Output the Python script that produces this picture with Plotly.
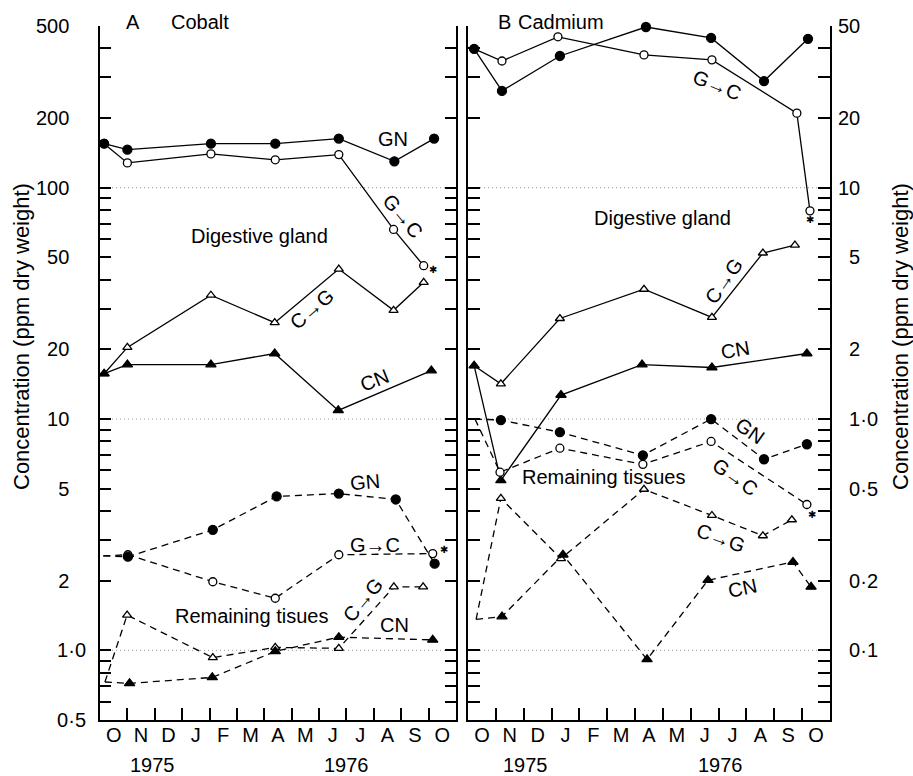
import math
import plotly.graph_objects as go

FONT = "Liberation Sans, Arial, sans-serif"

# Month axis (x = months after 1 Oct 1975)
MONTHS = ["O", "N", "D", "J", "F", "M", "A", "M", "J", "J", "A", "S", "O"]
YEARS = ["1975", "1976"]

# ---------------- A  Cobalt (ppm dry weight) ----------------
# digestive gland
co_dg_gn_x = [0.15, 1.0, 4.05, 6.4, 8.72, 10.75, 12.2]
co_dg_gn_y = [155, 146, 155, 155, 163, 130, 163]
co_dg_gc_x = [0.15, 1.0, 4.05, 6.4, 8.72, 10.72, 11.82]
co_dg_gc_y = [155, 128, 140, 132, 139, 66, 46]
co_dg_cg_x = [0.15, 1.0, 4.05, 6.38, 8.72, 10.72, 11.82]
co_dg_cg_y = [15.7, 20.4, 34.3, 26.1, 44.5, 29.5, 39]
co_dg_cn_x = [0.15, 1.0, 4.05, 6.38, 8.7, 12.1]
co_dg_cn_y = [15.7, 17.2, 17.2, 19.2, 10.9, 16.2]
# remaining tissues
co_rt_gn_x = [0.12, 1.02, 4.12, 6.45, 8.72, 10.8, 12.22]
co_rt_gn_y = [2.56, 2.54, 3.32, 4.63, 4.76, 4.49, 2.37]
co_rt_gc_x = [0.12, 1.02, 4.12, 6.4, 8.72, 12.15]
co_rt_gc_y = [2.56, 2.59, 1.98, 1.68, 2.59, 2.62]
co_rt_cg_x = [0.18, 0.99, 4.12, 6.4, 8.72, 10.73, 11.8]
co_rt_cg_y = [0.73, 1.42, 0.93, 1.03, 1.02, 1.88, 1.88]
co_rt_cn_x = [0.18, 1.08, 4.1, 6.4, 8.72, 12.15]
co_rt_cn_y = [0.73, 0.72, 0.764, 0.99, 1.14, 1.11]

# ---------------- B  Cadmium (ppm dry weight) ----------------
cd_dg_gn_x = [0.22, 1.22, 3.3, 6.39, 8.73, 10.63, 12.21]
cd_dg_gn_y = [39.8, 26.2, 37.1, 49.5, 44.4, 28.9, 44.0]
cd_dg_gc_x = [0.22, 1.22, 3.23, 6.32, 8.76, 11.81, 12.28]
cd_dg_gc_y = [39.8, 35.3, 44.9, 37.5, 35.7, 21.0, 7.94]
cd_dg_cg_x = [0.22, 1.18, 3.3, 6.32, 8.76, 10.59, 11.74]
cd_dg_cg_y = [1.70, 1.42, 2.72, 3.64, 2.75, 5.22, 5.65]
cd_dg_cn_x = [0.22, 1.18, 3.34, 6.25, 8.76, 12.17]
cd_dg_cn_y = [1.70, 0.543, 1.27, 1.72, 1.67, 1.92]
cd_rt_gn_x = [0.25, 1.18, 3.3, 6.28, 8.73, 10.63, 12.17]
cd_rt_gn_y = [1.0, 0.99, 0.877, 0.697, 1.0, 0.67, 0.778]
cd_rt_gc_x = [0.25, 1.15, 3.3, 6.28, 8.73, 12.17]
cd_rt_gc_y = [1.0, 0.589, 0.748, 0.637, 0.80, 0.427]
cd_rt_cg_x = [0.29, 1.18, 3.34, 6.32, 8.76, 10.59, 11.63]
cd_rt_cg_y = [0.136, 0.454, 0.249, 0.497, 0.383, 0.313, 0.367]
cd_rt_cn_x = [0.29, 1.22, 3.41, 6.43, 8.62, 11.67, 12.32]
cd_rt_cn_y = [0.136, 0.14, 0.259, 0.0914, 0.201, 0.241, 0.188]

# Axis tick values / labels
co_ticks = [m * 10 ** e for e in (-1, 0, 1, 2) for m in range(1, 10)
            if 0.5 <= m * 10 ** e <= 500]
cd_ticks = [v / 10 for v in co_ticks]
co_labels = {500: "500", 200: "200", 100: "100", 50: "50", 20: "20",
             10: "10", 5: "5", 2: "2", 1: "1·0", 0.5: "0·5"}
cd_labels = {50: "50", 20: "20", 10: "10", 5: "5", 2: "2",
             1: "1·0", 0.5: "0·5", 0.2: "0·2", 0.1: "0·1"}

fig = go.Figure()

STYLE = {
    "GN": dict(symbol="circle", color="black", size=9),
    "GC": dict(symbol="circle", color="white", size=8),
    "CG": dict(symbol="triangle-up", color="white", size=8),
    "CN": dict(symbol="triangle-up", color="black", size=9),
}


def add_series(x, y, kind, dashed, xa, ya):
    st = STYLE[kind]
    sizes = [st["size"]] * len(x)
    if dashed:
        sizes[0] = 0  # the first remaining-tissue value is drawn without a marker
    fig.add_trace(go.Scatter(
        x=x, y=y, mode="lines+markers", xaxis=xa, yaxis=ya,
        line=dict(color="black", width=1.3, dash="7px,5px" if dashed else "solid"),
        marker=dict(symbol=st["symbol"], color=st["color"], size=sizes, opacity=1,
                    line=dict(color="black", width=1.3)),
        cliponaxis=False, showlegend=False, hoverinfo="skip"))


# dotted reference lines at decades
for v in (100, 10, 1):
    fig.add_trace(go.Scatter(x=[0, 13], y=[v, v], mode="lines", xaxis="x", yaxis="y",
                             line=dict(color="#9a9a9a", width=1, dash="1px,3px"),
                             showlegend=False, hoverinfo="skip"))
for v in (10, 1, 0.1):
    fig.add_trace(go.Scatter(x=[0, 13], y=[v, v], mode="lines", xaxis="x2", yaxis="y2",
                             line=dict(color="#9a9a9a", width=1, dash="1px,3px"),
                             showlegend=False, hoverinfo="skip"))

for (x, y, k, d) in [
    (co_dg_gc_x, co_dg_gc_y, "GC", False), (co_dg_gn_x, co_dg_gn_y, "GN", False),
    (co_dg_cg_x, co_dg_cg_y, "CG", False), (co_dg_cn_x, co_dg_cn_y, "CN", False),
    (co_rt_gc_x, co_rt_gc_y, "GC", True), (co_rt_gn_x, co_rt_gn_y, "GN", True),
    (co_rt_cg_x, co_rt_cg_y, "CG", True), (co_rt_cn_x, co_rt_cn_y, "CN", True),
]:
    add_series(x, y, k, d, "x", "y")

for (x, y, k, d) in [
    (cd_dg_gc_x, cd_dg_gc_y, "GC", False), (cd_dg_gn_x, cd_dg_gn_y, "GN", False),
    (cd_dg_cg_x, cd_dg_cg_y, "CG", False), (cd_dg_cn_x, cd_dg_cn_y, "CN", False),
    (cd_rt_gc_x, cd_rt_gc_y, "GC", True), (cd_rt_gn_x, cd_rt_gn_y, "GN", True),
    (cd_rt_cg_x, cd_rt_cg_y, "CG", True), (cd_rt_cn_x, cd_rt_cn_y, "CN", True),
]:
    add_series(x, y, k, d, "x2", "y2")

ann = []


def label(text, xa, ya, m, v, angle=0, size=20):
    ann.append(dict(text=text, xref=xa, yref=ya, x=m, y=math.log10(v),
                    showarrow=False, textangle=angle,
                    font=dict(family=FONT, size=size, color="black")))


# panel A labels
label("GN", "x", "y", 10.69, 163, 0)
label("G→C", "x", "y", 11.06, 75.5, 50)
label("Digestive gland", "x", "y", 5.84, 61.8)
label("C→G", "x", "y", 7.74, 29.8, -40)
label("CN", "x", "y", 10.04, 14.8, -22)
label("GN", "x", "y", 9.67, 5.32, -5)
label("G→C", "x", "y", 10.04, 2.86)
label("Remaining tisues", "x", "y", 5.55, 1.41)
label("C→G", "x", "y", 9.6, 1.65, -50)
label("CN", "x", "y", 10.77, 1.29)

# panel B labels
label("GN", "x2", "y2", 8.87, 53.2)
label("G→C", "x2", "y2", 8.94, 27.7, 22)
label("Digestive gland", "x2", "y2", 7.0, 7.41)
label("C→G", "x2", "y2", 9.19, 3.94, -55)
label("CN", "x2", "y2", 9.59, 1.98, -10)
label("GN", "x2", "y2", 10.13, 0.887, 35)
label("G→C", "x2", "y2", 9.59, 0.56, 35)
label("Remaining tissues", "x2", "y2", 4.85, 0.56)
label("C→G", "x2", "y2", 9.08, 0.307, 20)
label("CN", "x2", "y2", 9.87, 0.186, -12)

# asterisks beside final transplant values
for xa, ya, m, v, dx, dy in [
    ("x", "y", co_dg_gc_x[-1], co_dg_gc_y[-1], 9, -4),
    ("x", "y", co_rt_gc_x[-1], co_rt_gc_y[-1], 11, 4),
    ("x2", "y2", cd_dg_gc_x[-1], cd_dg_gc_y[-1], 0, -9),
    ("x2", "y2", cd_rt_gc_x[-1], cd_rt_gc_y[-1], 5, -10),
]:
    ann.append(dict(text="✱", xref=xa, yref=ya, x=m, y=math.log10(v), xshift=dx, yshift=dy,
                    showarrow=False, font=dict(family="DejaVu Sans", size=10, color="black")))


def paper_text(text, px, py, anchor="center", size=20, angle=0):
    ann.append(dict(text=text, xref="paper", yref="paper", x=px / 913, y=1 - py / 776,
                    xanchor=anchor, yanchor="middle", showarrow=False, textangle=angle,
                    font=dict(family=FONT, size=size, color="black")))


# panel titles
paper_text("A", 133, 22)
paper_text("Cobalt", 169, 22, "left")
paper_text("B", 504, 22)
paper_text("Cadmium", 516, 22, "left")

# y titles
paper_text("Concentration (ppm dry weight)", 21, 337, size=22, angle=-90)
paper_text("Concentration (ppm dry weight)", 900, 337, size=22, angle=-90)

# years under the month axis
for xa, pos in (("x", (1.9, 9.0)), ("x2", (2.05, 9.05))):
    for yr, m in zip(YEARS, pos):
        ann.append(dict(text=yr, xref=xa, yref="paper", x=m, y=1 - 765 / 776,
                        yanchor="middle", showarrow=False,
                        font=dict(family=FONT, size=20, color="black")))

AX = dict(showgrid=False, zeroline=False, showline=True, linecolor="black", linewidth=2,
          tickcolor="black", tickwidth=2, automargin=False,
          tickfont=dict(family=FONT, size=20, color="black"))

xcommon = dict(AX, range=[0, 13], tickvals=[i + 0.5 for i in range(13)], ticktext=MONTHS,
               ticks="", ticklabelstandoff=-4,
               minor=dict(tickvals=list(range(1, 13)), ticks="inside", ticklen=12,
                          tickcolor="black", tickwidth=2))

FS = "\u2007"   # figure space (digit width)
PS = "\u2008"   # punctuation space


def co_text(v):
    if v in co_labels:
        t = co_labels[v]
        return t if "·" in t else t + PS + FS
    return ""


def cd_text(v):
    if v in cd_labels:
        t = cd_labels[v]
        return FS + t if (len(t) == 1 or "·" in t) else t
    return ""


fig.update_layout(
    width=913, height=776, margin=dict(l=0, r=0, t=0, b=0, pad=0, autoexpand=False),
    paper_bgcolor="white", plot_bgcolor="rgba(0,0,0,0)",
    xaxis=dict(xcommon, domain=[100 / 913, 456 / 913], anchor="y"),
    xaxis2=dict(xcommon, domain=[468 / 913, 830 / 913], anchor="y2"),
    yaxis=dict(AX, type="log", range=[math.log10(0.5), math.log10(500)],
               domain=[1 - 720 / 776, 1 - 26 / 776], anchor="x", side="left",
               mirror="ticks", ticks="inside", ticklen=11,
               tickvals=co_ticks, ticktext=[co_text(v) for v in co_ticks],
               ticklabelstandoff=8),
    yaxis2=dict(AX, type="log", range=[math.log10(0.05), math.log10(50)],
                domain=[1 - 720 / 776, 1 - 26 / 776], anchor="x2", side="right",
                mirror="ticks", ticks="inside", ticklen=12,
                tickvals=cd_ticks, ticktext=[cd_text(v) for v in cd_ticks],
                ticklabelstandoff=2),
    annotations=ann,
)

fig.write_html("out.html")
